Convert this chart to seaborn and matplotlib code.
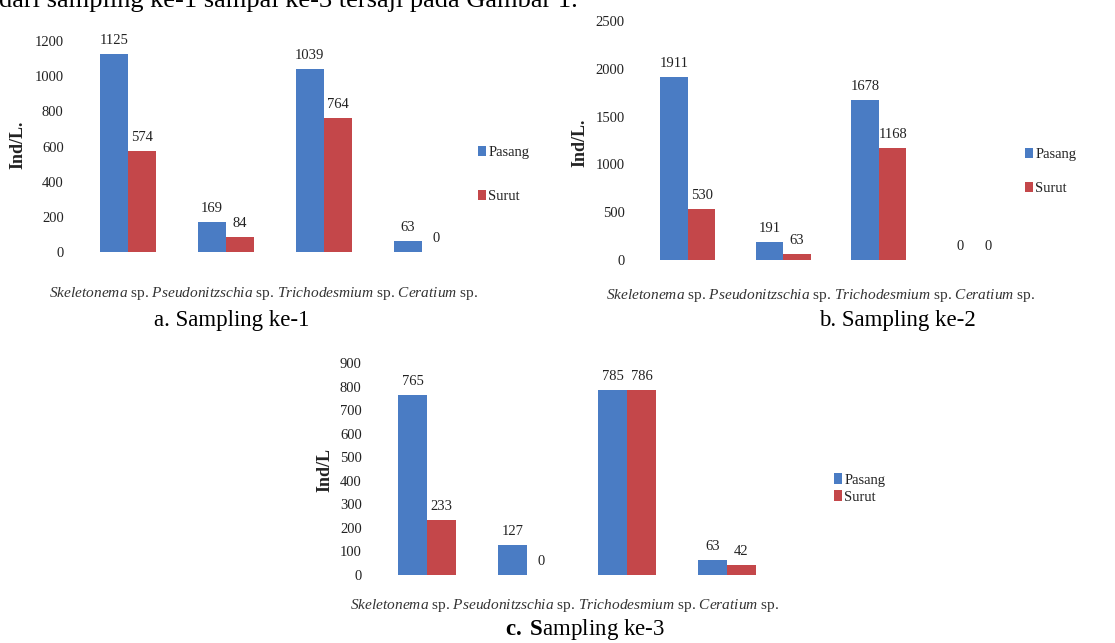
import numpy as np
import pandas as pd
import matplotlib
matplotlib.use("Agg")
import matplotlib.pyplot as plt
import seaborn as sns

# Phytoplankton abundance (Ind/L) per genus at high tide (Pasang) and low tide (Surut)
genera = ["Skeletonema", "Pseudonitzschia", "Trichodesmium", "Ceratium"]
tides = ["Pasang", "Surut"]

s1_pasang = [1125, 169, 1039, 63]
s1_surut = [574, 84, 764, 0]

s2_pasang = [1911, 191, 1678, 0]
s2_surut = [530, 63, 1168, 0]

s3_pasang = [765, 127, 785, 63]
s3_surut = [233, 0, 786, 42]

y_ticks_1 = [0, 200, 400, 600, 800, 1000, 1200]
y_ticks_2 = [0, 500, 1000, 1500, 2000, 2500]
y_ticks_3 = [0, 100, 200, 300, 400, 500, 600, 700, 800, 900]

captions = ["a. Sampling ke-1", "b. Sampling ke-2", r"$\bf{c.}$ $\bf{S}$ampling ke-3"]
intro_text = "dari sampling ke-1 sampai ke-3 tersaji pada Gambar 1."

BLUE = "#4a7cc4"
RED = "#c4474a"

sns.set_style("white")
plt.rcParams["font.family"] = ["Liberation Serif", "DejaVu Serif"]
plt.rcParams["mathtext.fontset"] = "custom"
plt.rcParams["mathtext.rm"] = "Liberation Serif"
plt.rcParams["mathtext.it"] = "Liberation Serif:italic"
plt.rcParams["mathtext.bf"] = "Liberation Serif:bold"

W, H = 1115, 643
fig = plt.figure(figsize=(W / 100, H / 100), dpi=100)
fig.patch.set_facecolor("white")


def rect(left, right, top, bottom):
    return [left / W, 1 - bottom / H, (right - left) / W, (bottom - top) / H]


def frame(pasang, surut):
    return pd.DataFrame({
        "genus": genera * 2,
        "musim": [tides[0]] * len(genera) + [tides[1]] * len(genera),
        "value": list(pasang) + list(surut),
    })


category_line = " ".join(rf"$\it{{{g}}}$ sp." for g in genera)

panels = [
    dict(data=(s1_pasang, s1_surut), ticks=y_ticks_1, box=(79, 471, 41, 252),
         ylabel="Ind/L.", ylabel_xy=(18, 145), cat_xy=(264, 294),
         legend_xy=(478, 174.5), legend_spacing=2.1,
         caption_xy=(232, 320)),
    dict(data=(s2_pasang, s2_surut), ticks=y_ticks_2, box=(640, 1022, 21, 260),
         ylabel="Ind/L.", ylabel_xy=(580, 143), cat_xy=(821, 295),
         legend_xy=(1025, 171.5), legend_spacing=1.4,
         caption_xy=(897, 320)),
    dict(data=(s3_pasang, s3_surut), ticks=y_ticks_3, box=(377, 777, 363, 575),
         ylabel="Ind/L", ylabel_xy=(325, 470), cat_xy=(565, 605),
         legend_xy=(834, 488.5), legend_spacing=0.25,
         caption_xy=(585, 630)),
]

for p in panels:
    ax = fig.add_axes(rect(*p["box"]))
    df = frame(*p["data"])
    sns.barplot(data=df, x="genus", y="value", hue="musim", order=genera,
                hue_order=tides, palette=[BLUE, RED], saturation=1,
                width=0.58, errorbar=None, linewidth=0, ax=ax)
    for cont in ax.containers:
        ax.bar_label(cont, fmt="%g", padding=5, fontsize=10.5, color="#222222")

    ax.set_ylim(0, p["ticks"][-1])
    ax.set_xlim(-0.5, len(genera) - 0.5)
    ax.set_yticks(p["ticks"])
    ax.set_yticklabels([str(t) for t in p["ticks"]], fontsize=10.5, color="#222222")
    ax.tick_params(axis="y", length=0, pad=11)
    ax.set_xticks([])
    ax.set_xlabel("")
    ax.set_ylabel("")
    ax.set_facecolor("white")
    for s in ax.spines.values():
        s.set_visible(False)

    handles, labels = ax.get_legend_handles_labels()
    if ax.get_legend() is not None:
        ax.get_legend().remove()
    lx, ly = p["legend_xy"]
    ax.legend(handles, labels, loc="center left",
              bbox_to_anchor=(lx / W, 1 - ly / H), bbox_transform=fig.transFigure,
              frameon=False, fontsize=10.5, handlelength=0.55, handleheight=0.7,
              handletextpad=0.15, borderpad=0, borderaxespad=0,
              labelspacing=p["legend_spacing"], labelcolor="#222222")

    yx, yy = p["ylabel_xy"]
    fig.text(yx / W, 1 - yy / H, p["ylabel"], rotation=90, fontsize=13,
             fontweight="bold", ha="center", va="center", color="#222222")

    cx, cy = p["cat_xy"]
    fig.text(cx / W, 1 - cy / H, category_line, fontsize=11.1,
             ha="center", va="center", color="#333333")

for cap, p in zip(captions, panels):
    cx, cy = p["caption_xy"]
    fig.text(cx / W, 1 - cy / H, cap, fontsize=16.5, ha="center", va="center",
             color="black")

fig.text(-1 / W, 1 - 7 / H, intro_text, fontsize=19, ha="left", va="baseline",
         color="black")

fig.savefig("out.png", dpi=100, facecolor="white")
